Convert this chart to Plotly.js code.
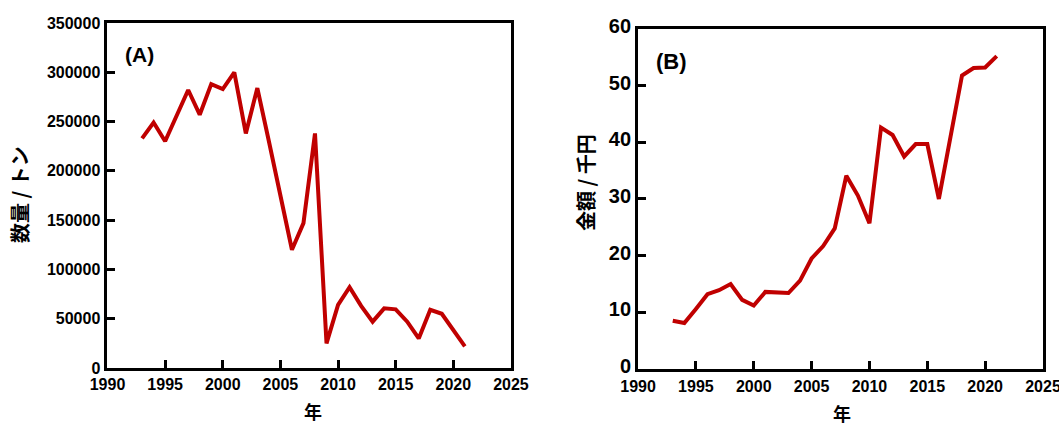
<!DOCTYPE html>
<html>
<head>
<meta charset="utf-8">
<script src="https://cdn.plot.ly/plotly-3.0.1.min.js"></script>
<style>html,body{margin:0;padding:0;background:#fff;}#chart{width:1059px;height:425px;}</style>
</head>
<body>
<div id="chart"></div>
<script>
const years = [1993,1994,1995,1996,1997,1998,1999,2000,2001,2002,2003,2004,2005,2006,2007,2008,2009,2010,2011,2012,2013,2014,2015,2016,2017,2018,2019,2020,2021];
const quantityTons = [233000,249000,230000,256000,282000,257000,288000,283000,300000,238000,284000,230000,176000,120000,147000,238000,25000,64000,82000,63000,47000,60500,59500,47000,30000,59000,55000,39000,22000];
const valueThousandYen = [8.5,8.1,10.6,13.2,13.9,15.0,12.2,11.2,13.6,13.5,13.4,15.6,19.5,21.7,24.8,34.1,30.6,25.7,42.6,41.3,37.5,39.7,39.7,30.0,41.0,51.8,53.1,53.2,55.2];
const xTickVals = [1990,1995,2000,2005,2010,2015,2020,2025];
const yTickValsA = [0,50000,100000,150000,200000,250000,300000,350000];
const yTickValsB = [0,10,20,30,40,50,60];
const panelLabels = ['(A)','(B)'];
const yTitles = ['数量 / トン','金額 / 千円'];
const xTitle = '年';

const lineColor = '#c00000';
const latin = 'Liberation Sans, Arial, sans-serif';
const cjk = 'Noto Sans CJK JP, sans-serif';

function axisBase(extra){
  return Object.assign({
    showline:true, mirror:true, linecolor:'#000', linewidth:3,
    ticks:'inside', ticklen:8, tickwidth:3, tickcolor:'#000',
    showgrid:false, zeroline:false, fixedrange:true,
    ticklabeloverflow:'allow',
    tickfont:{family:latin, size:16, color:'#000', weight:'bold'}
  }, extra);
}

const traces = [
  {x:years, y:quantityTons, type:'scatter', mode:'lines', line:{color:lineColor, width:4}, xaxis:'x', yaxis:'y', hoverinfo:'skip'},
  {x:years, y:valueThousandYen, type:'scatter', mode:'lines', line:{color:lineColor, width:4}, xaxis:'x2', yaxis:'y2', hoverinfo:'skip'}
];

const layout = {
  width:1059, height:425,
  margin:{l:0,r:0,t:0,b:0},
  paper_bgcolor:'#fff', plot_bgcolor:'#fff',
  showlegend:false,
  xaxis: axisBase({domain:[0.1015,0.4825], range:[1990,2025], tickvals:xTickVals, anchor:'y'}),
  yaxis: axisBase({domain:[0.1341,0.9459], range:[0,350000], tickvals:yTickValsA, anchor:'x', tickformat:'d', ticklabelstandoff:1}),
  xaxis2: axisBase({domain:[0.6025,0.9849], range:[1990,2025], tickvals:xTickVals, anchor:'y2', ticklabelstandoff:1}),
  yaxis2: axisBase({domain:[0.1318,0.9318], range:[0,60], tickvals:yTickValsB, anchor:'x2', ticklabelshift:-3, tickfont:{family:latin, size:20, color:'#000', weight:'bold'}}),
  annotations:[
    {text:panelLabels[0], xref:'paper', yref:'paper', x:123/1059, y:1-54/425, xanchor:'left', yanchor:'middle', showarrow:false, font:{family:latin, size:21, color:'#000', weight:'bold'}},
    {text:panelLabels[1], xref:'paper', yref:'paper', x:654/1059, y:1-61/425, xanchor:'left', yanchor:'middle', showarrow:false, font:{family:latin, size:22, color:'#000', weight:'bold'}},
    {text:yTitles[0], xref:'paper', yref:'paper', x:20/1059, y:1-195/425, xanchor:'center', yanchor:'middle', textangle:-90, showarrow:false, font:{family:cjk, size:20, color:'#000', weight:'bold'}},
    {text:yTitles[1], xref:'paper', yref:'paper', x:585/1059, y:1-183/425, xanchor:'center', yanchor:'middle', textangle:-90, showarrow:false, font:{family:cjk, size:20, color:'#000', weight:'bold'}},
    {text:xTitle, xref:'paper', yref:'paper', x:313/1059, y:1-411/425, xanchor:'center', yanchor:'middle', showarrow:false, font:{family:cjk, size:18, color:'#000', weight:'bold'}},
    {text:xTitle, xref:'paper', yref:'paper', x:842/1059, y:1-413/425, xanchor:'center', yanchor:'middle', showarrow:false, font:{family:cjk, size:18, color:'#000', weight:'bold'}}
  ]
};

Plotly.newPlot('chart', traces, layout, {staticPlot:true, displayModeBar:false});
</script>
</body>
</html>
